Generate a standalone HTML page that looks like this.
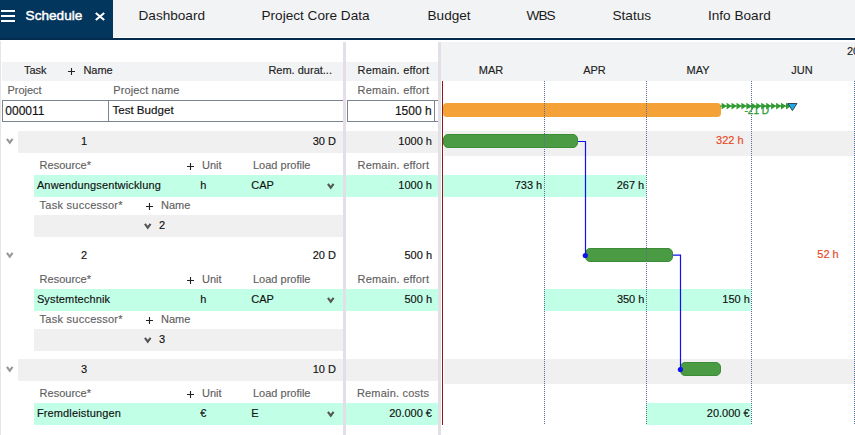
<!DOCTYPE html>
<html><head><meta charset="utf-8"><style>
html,body{margin:0;padding:0;}
body{width:855px;height:435px;position:relative;overflow:hidden;background:#fff;font-family:"Liberation Sans",sans-serif;}
body>div,body>svg{position:absolute;}
.t{white-space:nowrap;-webkit-text-stroke:0.15px currentColor;}
.tn{white-space:nowrap;}
</style></head><body>
<div style="left:0px;top:0px;width:855px;height:37px;background:#f2f3f5;"></div>
<div style="left:0px;top:37px;width:855px;height:1px;background:#ffffff;"></div>
<div style="left:0px;top:0px;width:113px;height:38px;background:#03365c;"></div>
<div style="left:0px;top:38px;width:855px;height:2px;background:#022b4f;"></div>
<div style="left:1px;top:10px;width:14px;height:2px;background:#ffffff;"></div>
<div style="left:1px;top:15px;width:14px;height:2px;background:#ffffff;"></div>
<div style="left:1px;top:20px;width:14px;height:2px;background:#ffffff;"></div>
<div class="tn" style="left:25.6px;top:9.00px;font-size:13.6px;line-height:13.6px;color:#ffffff;font-weight:normal;-webkit-text-stroke:0.45px #fff">Schedule</div>
<svg style="left:94px;top:11px" width="12" height="11" viewBox="0 0 12 11"><path d="M1.8 2 L10.2 9 M10.2 2 L1.8 9" stroke="#fff" stroke-width="2.1" fill="none"/></svg>
<div class="tn" style="left:138.5px;top:9.00px;font-size:13.6px;line-height:13.6px;color:#1b1b1b;font-weight:normal;">Dashboard</div>
<div class="tn" style="left:261.5px;top:9.00px;font-size:13.6px;line-height:13.6px;color:#1b1b1b;font-weight:normal;">Project Core Data</div>
<div class="tn" style="left:427.5px;top:9.00px;font-size:13.6px;line-height:13.6px;color:#1b1b1b;font-weight:normal;">Budget</div>
<div class="tn" style="left:526.5px;top:9.00px;font-size:13.6px;line-height:13.6px;color:#1b1b1b;font-weight:normal;letter-spacing:-0.9px">WBS</div>
<div class="tn" style="left:612.5px;top:9.00px;font-size:13.6px;line-height:13.6px;color:#1b1b1b;font-weight:normal;">Status</div>
<div class="tn" style="left:708.0px;top:9.00px;font-size:13.6px;line-height:13.6px;color:#1b1b1b;font-weight:normal;">Info Board</div>
<div style="left:0px;top:41px;width:1px;height:394px;background:#e6e6e6;"></div>
<div style="left:2px;top:62px;width:341px;height:19px;background:#f2f3f5;"></div>
<div style="left:346px;top:62px;width:92px;height:19px;background:#f2f3f5;"></div>
<div style="left:441px;top:42px;width:414px;height:39px;background:#f2f3f5;"></div>
<div class="t" style="left:24px;top:65.00px;font-size:11px;line-height:11px;color:#222;font-weight:normal;">Task</div>
<svg style="left:67px;top:67px" width="9" height="9" viewBox="0 0 9 9"><path d="M4.5 1 V8 M1 4.5 H8" stroke="#222" stroke-width="1.1" fill="none"/></svg>
<div class="t" style="left:83.4px;top:65.00px;font-size:11px;line-height:11px;color:#222;font-weight:normal;">Name</div>
<div class="t" style="left:268.4px;top:65.00px;font-size:11px;line-height:11px;color:#222;font-weight:normal;">Rem. durat...</div>
<div class="t" style="right:425.8px;top:65.00px;font-size:11px;line-height:11px;color:#222;font-weight:normal;letter-spacing:0.2px">Remain. effort</div>
<div class="t" style="left:291px;width:400px;text-align:center;top:65.00px;font-size:11px;line-height:11px;color:#222;font-weight:normal;">MAR</div>
<div class="t" style="left:394.5px;width:400px;text-align:center;top:65.00px;font-size:11px;line-height:11px;color:#222;font-weight:normal;">APR</div>
<div class="t" style="left:498px;width:400px;text-align:center;top:65.00px;font-size:11px;line-height:11px;color:#222;font-weight:normal;">MAY</div>
<div class="t" style="left:602px;width:400px;text-align:center;top:65.00px;font-size:11px;line-height:11px;color:#222;font-weight:normal;">JUN</div>
<div class="t" style="left:847px;top:46.00px;font-size:11px;line-height:11px;color:#222;font-weight:normal;">2025</div>
<div class="t" style="left:7.4px;top:85.00px;font-size:11px;line-height:11px;color:#5f5f5f;font-weight:normal;">Project</div>
<div class="t" style="left:113.3px;top:85.00px;font-size:11px;line-height:11px;color:#5f5f5f;font-weight:normal;letter-spacing:0.12px">Project name</div>
<div class="t" style="right:425.8px;top:85.00px;font-size:11px;line-height:11px;color:#5f5f5f;font-weight:normal;letter-spacing:0.2px">Remain. effort</div>
<div style="left:2px;top:100px;width:341px;height:22px;background:#fff;box-sizing:border-box;border:1px solid #7b8490;border-right:none"></div>
<div style="left:108px;top:100px;width:1px;height:22px;background:#7b8490;"></div>
<div style="left:347px;top:100px;width:91px;height:22px;background:#fff;box-sizing:border-box;border:1px solid #7b8490;border-right:none"></div>
<div style="left:434px;top:100px;width:1px;height:22px;background:#7b8490;"></div>
<div class="t" style="left:5.3px;top:105.00px;font-size:12px;line-height:12px;color:#111;font-weight:normal;">000011</div>
<div class="t" style="left:112.4px;top:104.00px;font-size:11.6px;line-height:11.6px;color:#111;font-weight:normal;">Test Budget</div>
<div class="t" style="right:423.4px;top:105.00px;font-size:12px;line-height:12px;color:#111;font-weight:normal;">1500 h</div>
<div style="left:18px;top:131px;width:325px;height:22px;background:#f0f0f0;"></div>
<div style="left:346px;top:131px;width:92px;height:22px;background:#f0f0f0;"></div>
<svg style="left:4.8px;top:136.8px" width="9.5" height="8.1" viewBox="0 0 9.5 8.1"><path d="M1.90 1.80 L4.75 5.70 L7.60 1.80" stroke="#979797" stroke-width="2.1" fill="none"/></svg>
<div class="t" style="left:81px;top:136.00px;font-size:11px;line-height:11px;color:#111;font-weight:normal;">1</div>
<div class="t" style="right:519px;top:136.00px;font-size:11px;line-height:11px;color:#111;font-weight:normal;">30 D</div>
<div class="t" style="right:423px;top:136.00px;font-size:11px;line-height:11px;color:#111;font-weight:normal;">1000 h</div>
<div class="t" style="left:39.6px;top:160.00px;font-size:11px;line-height:11px;color:#5f5f5f;font-weight:normal;">Resource*</div>
<svg style="left:186.0px;top:162.0px" width="9" height="9" viewBox="0 0 9 9"><path d="M4.5 1 V8 M1 4.5 H8" stroke="#222" stroke-width="1.1" fill="none"/></svg>
<div class="t" style="left:202px;top:160.00px;font-size:11px;line-height:11px;color:#5f5f5f;font-weight:normal;">Unit</div>
<div class="t" style="left:253px;top:160.00px;font-size:11px;line-height:11px;color:#5f5f5f;font-weight:normal;">Load profile</div>
<div class="t" style="right:425.8px;top:160.00px;font-size:11px;line-height:11px;color:#5f5f5f;font-weight:normal;letter-spacing:0.2px">Remain. effort</div>
<div style="left:34px;top:175px;width:309px;height:22px;background:#c1ffe7;"></div>
<div style="left:346px;top:175px;width:92px;height:22px;background:#c1ffe7;"></div>
<div class="t" style="left:36.9px;top:180.00px;font-size:11px;line-height:11px;color:#111;font-weight:normal;letter-spacing:0.14px">Anwendungsentwicklung</div>
<div class="t" style="left:200.2px;top:180.00px;font-size:11px;line-height:11px;color:#111;font-weight:normal;">h</div>
<div class="t" style="left:251.2px;top:180.00px;font-size:11px;line-height:11px;color:#111;font-weight:normal;">CAP</div>
<svg style="left:325.9px;top:181.8px" width="9.5" height="8.1" viewBox="0 0 9.5 8.1"><path d="M1.90 1.80 L4.75 5.70 L7.60 1.80" stroke="#555" stroke-width="2.1" fill="none"/></svg>
<div class="t" style="right:423px;top:180.00px;font-size:11px;line-height:11px;color:#111;font-weight:normal;">1000 h</div>
<div class="t" style="left:39.6px;top:200.00px;font-size:11px;line-height:11px;color:#5f5f5f;font-weight:normal;letter-spacing:0.25px">Task successor*</div>
<svg style="left:145.0px;top:202.0px" width="9" height="9" viewBox="0 0 9 9"><path d="M4.5 1 V8 M1 4.5 H8" stroke="#222" stroke-width="1.1" fill="none"/></svg>
<div class="t" style="left:161px;top:200.00px;font-size:11px;line-height:11px;color:#5f5f5f;font-weight:normal;">Name</div>
<div style="left:34px;top:215px;width:309px;height:22px;background:#f0f0f0;"></div>
<svg style="left:142.8px;top:221.8px" width="9.5" height="8.1" viewBox="0 0 9.5 8.1"><path d="M1.90 1.80 L4.75 5.70 L7.60 1.80" stroke="#555" stroke-width="2.1" fill="none"/></svg>
<div class="t" style="left:159px;top:220.00px;font-size:11px;line-height:11px;color:#111;font-weight:normal;">2</div>
<svg style="left:4.8px;top:250.8px" width="9.5" height="8.1" viewBox="0 0 9.5 8.1"><path d="M1.90 1.80 L4.75 5.70 L7.60 1.80" stroke="#979797" stroke-width="2.1" fill="none"/></svg>
<div class="t" style="left:81px;top:250.00px;font-size:11px;line-height:11px;color:#111;font-weight:normal;">2</div>
<div class="t" style="right:519px;top:250.00px;font-size:11px;line-height:11px;color:#111;font-weight:normal;">20 D</div>
<div class="t" style="right:423px;top:250.00px;font-size:11px;line-height:11px;color:#111;font-weight:normal;">500 h</div>
<div class="t" style="left:39.6px;top:274.00px;font-size:11px;line-height:11px;color:#5f5f5f;font-weight:normal;">Resource*</div>
<svg style="left:186.0px;top:276.0px" width="9" height="9" viewBox="0 0 9 9"><path d="M4.5 1 V8 M1 4.5 H8" stroke="#222" stroke-width="1.1" fill="none"/></svg>
<div class="t" style="left:202px;top:274.00px;font-size:11px;line-height:11px;color:#5f5f5f;font-weight:normal;">Unit</div>
<div class="t" style="left:253px;top:274.00px;font-size:11px;line-height:11px;color:#5f5f5f;font-weight:normal;">Load profile</div>
<div class="t" style="right:425.8px;top:274.00px;font-size:11px;line-height:11px;color:#5f5f5f;font-weight:normal;letter-spacing:0.2px">Remain. effort</div>
<div style="left:34px;top:289px;width:309px;height:22px;background:#c1ffe7;"></div>
<div style="left:346px;top:289px;width:92px;height:22px;background:#c1ffe7;"></div>
<div class="t" style="left:36.9px;top:294.00px;font-size:11px;line-height:11px;color:#111;font-weight:normal;letter-spacing:0.14px">Systemtechnik</div>
<div class="t" style="left:200.2px;top:294.00px;font-size:11px;line-height:11px;color:#111;font-weight:normal;">h</div>
<div class="t" style="left:251.2px;top:294.00px;font-size:11px;line-height:11px;color:#111;font-weight:normal;">CAP</div>
<svg style="left:325.9px;top:295.8px" width="9.5" height="8.1" viewBox="0 0 9.5 8.1"><path d="M1.90 1.80 L4.75 5.70 L7.60 1.80" stroke="#555" stroke-width="2.1" fill="none"/></svg>
<div class="t" style="right:423px;top:294.00px;font-size:11px;line-height:11px;color:#111;font-weight:normal;">500 h</div>
<div class="t" style="left:39.6px;top:314.00px;font-size:11px;line-height:11px;color:#5f5f5f;font-weight:normal;letter-spacing:0.25px">Task successor*</div>
<svg style="left:145.0px;top:316.0px" width="9" height="9" viewBox="0 0 9 9"><path d="M4.5 1 V8 M1 4.5 H8" stroke="#222" stroke-width="1.1" fill="none"/></svg>
<div class="t" style="left:161px;top:314.00px;font-size:11px;line-height:11px;color:#5f5f5f;font-weight:normal;">Name</div>
<div style="left:34px;top:329px;width:309px;height:22px;background:#f0f0f0;"></div>
<svg style="left:142.8px;top:335.8px" width="9.5" height="8.1" viewBox="0 0 9.5 8.1"><path d="M1.90 1.80 L4.75 5.70 L7.60 1.80" stroke="#555" stroke-width="2.1" fill="none"/></svg>
<div class="t" style="left:159px;top:334.00px;font-size:11px;line-height:11px;color:#111;font-weight:normal;">3</div>
<div style="left:18px;top:359px;width:325px;height:22px;background:#f0f0f0;"></div>
<div style="left:346px;top:359px;width:92px;height:22px;background:#f0f0f0;"></div>
<svg style="left:4.8px;top:364.8px" width="9.5" height="8.1" viewBox="0 0 9.5 8.1"><path d="M1.90 1.80 L4.75 5.70 L7.60 1.80" stroke="#979797" stroke-width="2.1" fill="none"/></svg>
<div class="t" style="left:81px;top:364.00px;font-size:11px;line-height:11px;color:#111;font-weight:normal;">3</div>
<div class="t" style="right:519px;top:364.00px;font-size:11px;line-height:11px;color:#111;font-weight:normal;">10 D</div>
<div class="t" style="left:39.6px;top:388.00px;font-size:11px;line-height:11px;color:#5f5f5f;font-weight:normal;">Resource*</div>
<svg style="left:186.0px;top:390.0px" width="9" height="9" viewBox="0 0 9 9"><path d="M4.5 1 V8 M1 4.5 H8" stroke="#222" stroke-width="1.1" fill="none"/></svg>
<div class="t" style="left:202px;top:388.00px;font-size:11px;line-height:11px;color:#5f5f5f;font-weight:normal;">Unit</div>
<div class="t" style="left:253px;top:388.00px;font-size:11px;line-height:11px;color:#5f5f5f;font-weight:normal;">Load profile</div>
<div class="t" style="right:425.8px;top:388.00px;font-size:11px;line-height:11px;color:#5f5f5f;font-weight:normal;letter-spacing:0.2px">Remain. costs</div>
<div style="left:34px;top:403px;width:309px;height:22px;background:#c1ffe7;"></div>
<div style="left:346px;top:403px;width:92px;height:22px;background:#c1ffe7;"></div>
<div class="t" style="left:36.9px;top:408.00px;font-size:11px;line-height:11px;color:#111;font-weight:normal;letter-spacing:0.14px">Fremdleistungen</div>
<div class="t" style="left:200.2px;top:408.00px;font-size:11px;line-height:11px;color:#111;font-weight:normal;">€</div>
<div class="t" style="left:251.2px;top:408.00px;font-size:11px;line-height:11px;color:#111;font-weight:normal;">E</div>
<svg style="left:325.9px;top:409.8px" width="9.5" height="8.1" viewBox="0 0 9.5 8.1"><path d="M1.90 1.80 L4.75 5.70 L7.60 1.80" stroke="#555" stroke-width="2.1" fill="none"/></svg>
<div class="t" style="right:423px;top:408.00px;font-size:11px;line-height:11px;color:#111;font-weight:normal;">20.000 €</div>
<div style="left:343px;top:42px;width:3px;height:393px;background:#e4dee7;"></div>
<div style="left:438px;top:42px;width:3px;height:393px;background:#e4dee7;"></div>
<div style="left:444px;top:131px;width:411px;height:25px;background:#f0f0f0;"></div>
<div style="left:444px;top:359px;width:411px;height:25px;background:#f0f0f0;"></div>
<div style="left:443px;top:175px;width:203px;height:22px;background:#c1ffe7;"></div>
<div style="left:544px;top:289px;width:207px;height:22px;background:#c1ffe7;"></div>
<div style="left:646px;top:403px;width:105px;height:22px;background:#c1ffe7;"></div>
<div class="t" style="right:312.79999999999995px;top:180.00px;font-size:11px;line-height:11px;color:#111;font-weight:normal;">733 h</div>
<div class="t" style="right:210.79999999999995px;top:180.00px;font-size:11px;line-height:11px;color:#111;font-weight:normal;">267 h</div>
<div class="t" style="right:210.60000000000002px;top:294.00px;font-size:11px;line-height:11px;color:#111;font-weight:normal;">350 h</div>
<div class="t" style="right:105.20000000000005px;top:294.00px;font-size:11px;line-height:11px;color:#111;font-weight:normal;">150 h</div>
<div class="t" style="right:105.39999999999998px;top:408.00px;font-size:11px;line-height:11px;color:#111;font-weight:normal;">20.000 €</div>
<div class="t" style="right:111.39999999999998px;top:135.00px;font-size:11px;line-height:11px;color:#e8461e;font-weight:normal;">322 h</div>
<div class="t" style="right:16.299999999999955px;top:249.00px;font-size:11px;line-height:11px;color:#e8461e;font-weight:normal;">52 h</div>
<div style="left:443px;top:103px;width:278px;height:14px;background:#f4a138;border-radius:4px"></div>
<div style="left:443px;top:134px;width:135px;height:14px;background:#4b9b45;border-radius:5px;box-sizing:border-box;border:1px solid #3a8c35"></div>
<div style="left:584.5px;top:248px;width:88.5px;height:14px;background:#4b9b45;border-radius:5px;box-sizing:border-box;border:1px solid #3a8c35"></div>
<div style="left:679.5px;top:362px;width:41.5px;height:14px;background:#4b9b45;border-radius:5px;box-sizing:border-box;border:1px solid #3a8c35"></div>
<svg style="left:0;top:0" width="855" height="435" viewBox="0 0 855 435"><path d="M578 141.5 H585.5 V255.5" stroke="#1010f0" stroke-width="1.2" fill="none"/><circle cx="585.3" cy="255.5" r="2.6" fill="#1010f0"/><path d="M673 255.2 H680.5 V369.5" stroke="#1010f0" stroke-width="1.2" fill="none"/><circle cx="680.4" cy="369.5" r="2.6" fill="#1010f0"/><path d="M720 106 H788" stroke="#2f9a2f" stroke-width="1.2" fill="none"/><path d="M721.6 102.8 L726.8 106.1 L721.6 109.5 Z" fill="#2f9a2f"/><path d="M726.6 102.8 L731.8 106.1 L726.6 109.5 Z" fill="#2f9a2f"/><path d="M731.5 102.8 L736.7 106.1 L731.5 109.5 Z" fill="#2f9a2f"/><path d="M736.5 102.8 L741.7 106.1 L736.5 109.5 Z" fill="#2f9a2f"/><path d="M741.4 102.8 L746.6 106.1 L741.4 109.5 Z" fill="#2f9a2f"/><path d="M746.4 102.8 L751.6 106.1 L746.4 109.5 Z" fill="#2f9a2f"/><path d="M751.3 102.8 L756.5 106.1 L751.3 109.5 Z" fill="#2f9a2f"/><path d="M756.3 102.8 L761.5 106.1 L756.3 109.5 Z" fill="#2f9a2f"/><path d="M761.2 102.8 L766.4 106.1 L761.2 109.5 Z" fill="#2f9a2f"/><path d="M766.2 102.8 L771.4 106.1 L766.2 109.5 Z" fill="#2f9a2f"/><path d="M771.1 102.8 L776.3 106.1 L771.1 109.5 Z" fill="#2f9a2f"/><path d="M776.1 102.8 L781.3 106.1 L776.1 109.5 Z" fill="#2f9a2f"/><path d="M781.0 102.8 L786.2 106.1 L781.0 109.5 Z" fill="#2f9a2f"/><path d="M786.0 102.8 L791.2 106.1 L786.0 109.5 Z" fill="#2f9a2f"/><path d="M787.8 103.5 H797 L792.4 110.6 Z" fill="#1fa8ea" stroke="#36465a" stroke-width="1"/></svg>
<div style="left:544px;top:81px;width:1px;height:344px;background:repeating-linear-gradient(to bottom,#5d6b8c 0,#5d6b8c 1px,transparent 1px,transparent 2px);"></div>
<div style="left:646px;top:81px;width:1px;height:344px;background:repeating-linear-gradient(to bottom,#5d6b8c 0,#5d6b8c 1px,transparent 1px,transparent 2px);"></div>
<div style="left:751px;top:81px;width:1px;height:344px;background:repeating-linear-gradient(to bottom,#5d6b8c 0,#5d6b8c 1px,transparent 1px,transparent 2px);"></div>
<div style="left:854px;top:81px;width:1px;height:344px;background:repeating-linear-gradient(to bottom,#5d6b8c 0,#5d6b8c 1px,transparent 1px,transparent 2px);"></div>
<div style="left:442px;top:81px;width:1px;height:344px;background:#8e1a1a;"></div>
<div class="t" style="left:744.5px;top:106.00px;font-size:10px;line-height:10px;color:#2a9a3a;font-weight:normal;-webkit-text-stroke:0.3px #2a9a3a">-21 D</div>
</body></html>
